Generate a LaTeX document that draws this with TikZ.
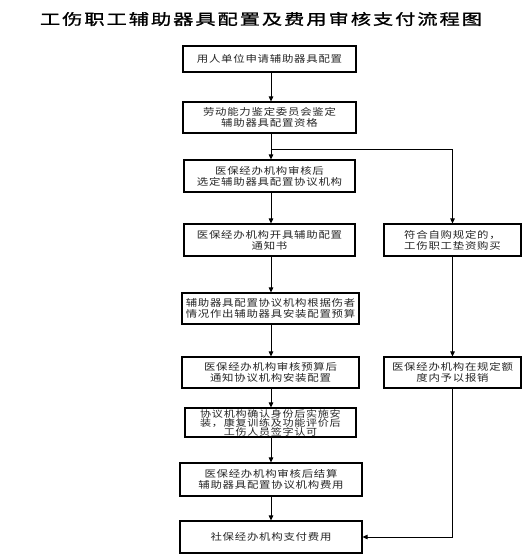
\documentclass[tikz,border=0pt]{standalone}
\usepackage{fontspec}
\usetikzlibrary{arrows.meta}
\newfontfamily\cjk[FakeStretch=1.2,LetterSpace=8]{Noto Sans CJK SC}
\newfontfamily\cjktitle[FakeStretch=1.35,LetterSpace=13,FakeBold=1.2]{Noto Sans CJK SC}
\newcommand\myline[1]{\rule[-0.5pt]{0pt}{9pt}\smash{#1}}
\begin{document}
\begin{tikzpicture}[x=1pt,y=-1pt,
  box/.style={draw=black, line width=1.1pt, inner sep=0pt, align=center,
    font=\cjk\fontsize{9.5}{11}\selectfont, text=black!85},
  arr/.style={-{Triangle[length=5pt,width=4.5pt]}, line width=0.9pt}]
\useasboundingbox (0,0) rectangle (522,556);
\fill[white] (0,0) rectangle (522,556);
\node[font=\cjktitle\fontsize{15}{15}\selectfont, inner sep=0pt] (title) at (261,19) {工伤职工辅助器具配置及费用审核支付流程图};

\node[box, minimum width=173pt, minimum height=26pt] (b1) at (269.5,59) {用人单位申请辅助器具配置};
\node[box, minimum width=173pt, minimum height=31pt] (b2) at (269.5,117.5) {劳动能力鉴定委员会鉴定\\辅助器具配置资格};
\node[box, minimum width=171pt, minimum height=32pt] (b3) at (269.5,176) {医保经办机构审核后\\选定辅助器具配置协议机构};
\node[box, minimum width=171pt, minimum height=32pt] (b4) at (269.5,240) {医保经办机构开具辅助配置\\通知书};
\node[box, minimum width=137pt, minimum height=32pt] (r1) at (452.5,240) {符合自购规定的，\\工伤职工垫资购买};
\node[box, minimum width=177pt, minimum height=31pt] (b5) at (270.5,308.5) {辅助器具配置协议机构根据伤者\\情况作出辅助器具安装配置预算};
\node[box, minimum width=177pt, minimum height=31pt] (b6) at (270.5,372.5) {医保经办机构审核预算后\\通知协议机构安装配置};
\node[box, minimum width=137pt, minimum height=31pt] (r2) at (452.5,372.5) {医保经办机构在规定额\\度内予以报销};
\node[box, minimum width=171pt, minimum height=29pt, font={\cjk\fontsize{9.2}{9}\selectfont}] (b7) at (270.5,422.5) {\myline{协议机构确认身份后实施安}\\\myline{装，康复训练及功能评价后}\\\myline{工伤人员签字认可}};
\node[box, minimum width=182pt, minimum height=33pt] (b8) at (271,479.5) {医保经办机构审核后结算\\辅助器具配置协议机构费用};
\node[box, minimum width=182pt, minimum height=32pt] (b9) at (271,537) {社保经办机构支付费用};

\coordinate (j) at (271,149);
\draw[arr] (271,72) coordinate (s1) -- (s1 |- b2.north);
\draw[line width=0.9pt] (271,133) coordinate (s2) -- (j);
\draw[arr] (j) -- (j |- b3.north);
\draw[arr] (j) -| (r1.north);
\draw[arr] (271,192) coordinate (s3) -- (s3 |- b4.north);
\draw[arr] (271,256) coordinate (s4) -- (s4 |- b5.north);
\draw[arr] (271,324) coordinate (s5) -- (s5 |- b6.north);
\draw[arr] (271,388) coordinate (s6) -- (s6 |- b7.north);
\draw[arr] (271,437) coordinate (s7) -- (s7 |- b8.north);
\draw[arr] (271,496) coordinate (s8) -- (s8 |- b9.north);
\draw[arr] (r1.south) -- (r2.north);
\draw[arr] (r2.south) |- (b9.east);
\end{tikzpicture}
\end{document}
